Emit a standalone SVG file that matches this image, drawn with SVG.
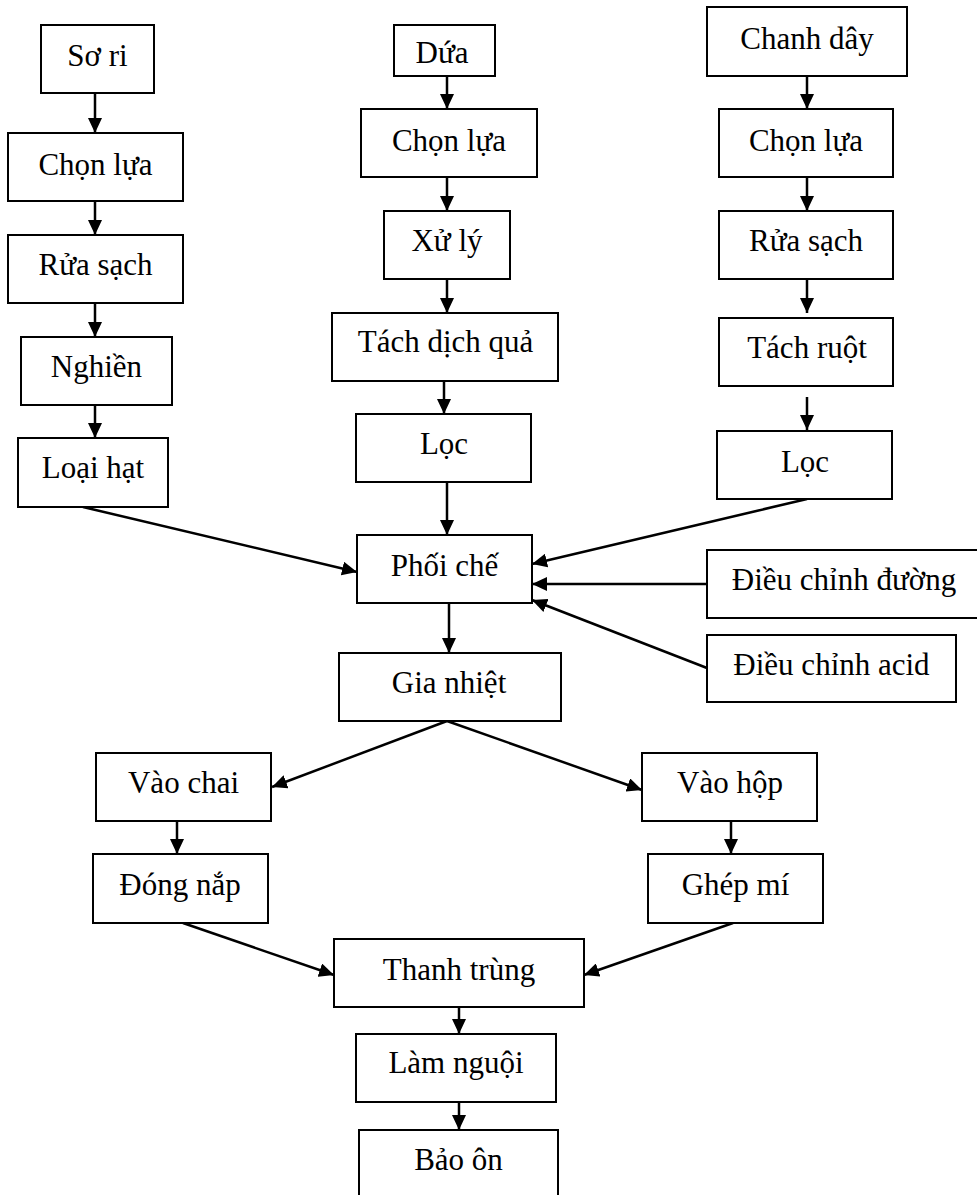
<svg xmlns="http://www.w3.org/2000/svg" width="977" height="1195" viewBox="0 0 977 1195">
<style>
.b{fill:#fff;stroke:#000;stroke-width:2}
.t{font-family:"Liberation Serif","Times New Roman",serif;font-size:31px;fill:#000;text-anchor:middle}
.c{stroke:#000;stroke-width:2.5;fill:none;marker-end:url(#ah)}
</style>
<defs>
<marker id="ah" markerUnits="userSpaceOnUse" markerWidth="16" markerHeight="14" refX="15" refY="7" orient="auto">
<path d="M0,0 L15,7 L0,14 z" fill="#000"/>
</marker>
</defs>
<rect width="977" height="1195" fill="#fff"/>
<g id="connectors">
<line class="c" x1="95" y1="93" x2="95" y2="133"/>
<line class="c" x1="95" y1="201" x2="95" y2="235"/>
<line class="c" x1="95" y1="303" x2="95" y2="337"/>
<line class="c" x1="95" y1="405" x2="95" y2="438"/>
<line class="c" x1="447" y1="76" x2="447" y2="109"/>
<line class="c" x1="447" y1="177" x2="447" y2="211"/>
<line class="c" x1="447" y1="279" x2="447" y2="313"/>
<line class="c" x1="444" y1="381" x2="444" y2="414"/>
<line class="c" x1="447" y1="482" x2="447" y2="535"/>
<line class="c" x1="807" y1="76" x2="807" y2="109"/>
<line class="c" x1="807" y1="177" x2="807" y2="211"/>
<line class="c" x1="807" y1="279" x2="807" y2="313"/>
<line class="c" x1="807" y1="397" x2="807" y2="430"/>
<line class="c" x1="83" y1="507" x2="357" y2="572"/>
<line class="c" x1="807" y1="499" x2="532" y2="564"/>
<line class="c" x1="707" y1="584" x2="532" y2="584"/>
<line class="c" x1="707" y1="668" x2="532" y2="600"/>
<line class="c" x1="449" y1="603" x2="449" y2="653"/>
<line class="c" x1="447" y1="721" x2="272" y2="787"/>
<line class="c" x1="447" y1="721" x2="642" y2="790"/>
<line class="c" x1="177" y1="821" x2="177" y2="854"/>
<line class="c" x1="731" y1="821" x2="731" y2="854"/>
<line class="c" x1="183" y1="923" x2="334" y2="975"/>
<line class="c" x1="733" y1="923" x2="584" y2="975"/>
<line class="c" x1="459" y1="1007" x2="459" y2="1034"/>
<line class="c" x1="459" y1="1102" x2="459" y2="1130"/>
</g>
<g id="n-sori"><rect class="b" x="41" y="25" width="113" height="68"/><text class="t" x="97.5" y="66">Sơ ri</text></g>
<g id="n-chonlua1"><rect class="b" x="8" y="133" width="175" height="68"/><text class="t" x="95.5" y="175">Chọn lựa</text></g>
<g id="n-ruasach1"><rect class="b" x="8" y="235" width="175" height="68"/><text class="t" x="95.5" y="275">Rửa sạch</text></g>
<g id="n-nghien"><rect class="b" x="21" y="337" width="151" height="68"/><text class="t" x="96.5" y="377">Nghiền</text></g>
<g id="n-loaihat"><rect class="b" x="18" y="438" width="150" height="69"/><text class="t" x="93" y="478">Loại hạt</text></g>
<g id="n-dua"><rect class="b" x="394" y="25" width="101" height="51"/><text class="t" x="442" y="63">Dứa</text></g>
<g id="n-chonlua2"><rect class="b" x="361" y="109" width="176" height="68"/><text class="t" x="449" y="151">Chọn lựa</text></g>
<g id="n-xuly"><rect class="b" x="384" y="211" width="126" height="68"/><text class="t" x="447" y="251">Xử lý</text></g>
<g id="n-tachdich"><rect class="b" x="332" y="313" width="226" height="68"/><text class="t" x="445.5" y="352">Tách dịch quả</text></g>
<g id="n-loc2"><rect class="b" x="356" y="414" width="175" height="68"/><text class="t" x="444" y="454">Lọc</text></g>
<g id="n-chanhday"><rect class="b" x="707" y="7" width="200" height="69"/><text class="t" x="807" y="49">Chanh dây</text></g>
<g id="n-chonlua3"><rect class="b" x="719" y="109" width="174" height="68"/><text class="t" x="806" y="151">Chọn lựa</text></g>
<g id="n-ruasach3"><rect class="b" x="719" y="211" width="174" height="68"/><text class="t" x="806" y="251">Rửa sạch</text></g>
<g id="n-tachruot"><rect class="b" x="719" y="318" width="174" height="68"/><text class="t" x="807" y="358">Tách ruột</text></g>
<g id="n-loc3"><rect class="b" x="717" y="431" width="175" height="68"/><text class="t" x="805" y="472">Lọc</text></g>
<g id="n-phoiche"><rect class="b" x="357" y="535" width="175" height="68"/><text class="t" x="444.5" y="576">Phối chế</text></g>
<g id="n-dcduong"><rect class="b" x="707" y="550" width="272" height="68"/><text class="t" x="844" y="590">Điều chỉnh đường</text></g>
<g id="n-dcacid"><rect class="b" x="707" y="635" width="249" height="67"/><text class="t" x="831.5" y="675">Điều chỉnh acid</text></g>
<g id="n-gianhiet"><rect class="b" x="339" y="653" width="222" height="68"/><text class="t" x="449" y="693">Gia nhiệt</text></g>
<g id="n-vaochai"><rect class="b" x="96" y="753" width="175" height="68"/><text class="t" x="183.5" y="793">Vào chai</text></g>
<g id="n-vaohop"><rect class="b" x="642" y="753" width="175" height="68"/><text class="t" x="730" y="793">Vào hộp</text></g>
<g id="n-dongnap"><rect class="b" x="93" y="854" width="175" height="69"/><text class="t" x="180" y="895">Đóng nắp</text></g>
<g id="n-ghepmi"><rect class="b" x="648" y="854" width="175" height="69"/><text class="t" x="735.5" y="895">Ghép mí</text></g>
<g id="n-thanhtrung"><rect class="b" x="334" y="939" width="250" height="68"/><text class="t" x="459" y="980">Thanh trùng</text></g>
<g id="n-lamnguoi"><rect class="b" x="356" y="1034" width="200" height="68"/><text class="t" x="456" y="1073">Làm nguội</text></g>
<g id="n-baoon"><rect class="b" x="359" y="1130" width="199" height="70"/><text class="t" x="458.5" y="1170">Bảo ôn</text></g>
</svg>
